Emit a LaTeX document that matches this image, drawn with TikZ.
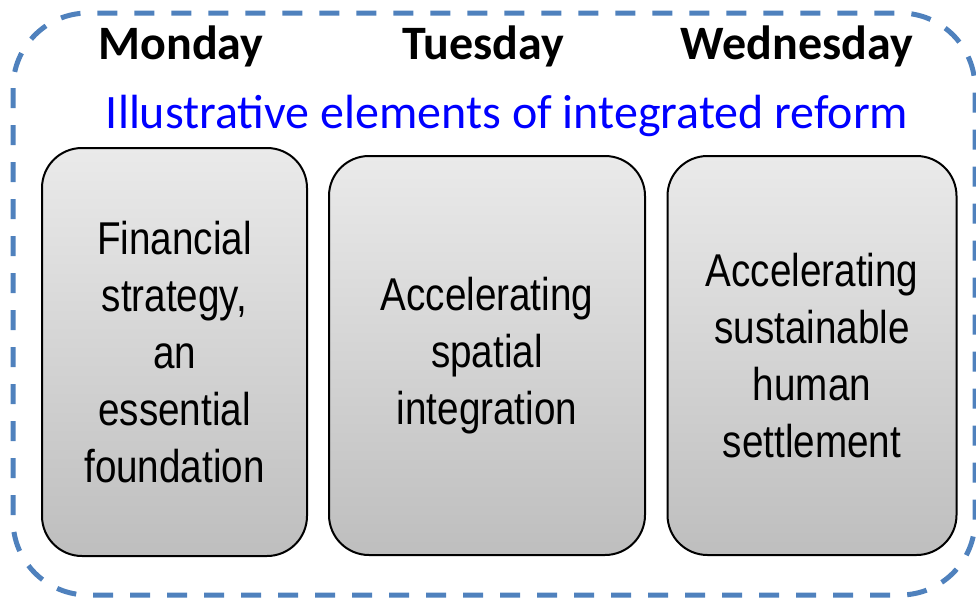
\documentclass[tikz,border=0pt]{standalone}
\usepackage{fontspec}
\setmainfont{Carlito}
\newfontfamily\narrowfont[FakeStretch=0.84]{Liberation Sans}
\usepackage{tikz}
\definecolor{frameblue}{RGB}{79,129,189}
\definecolor{boxtop}{RGB}{234,234,234}
\definecolor{boxbot}{RGB}{190,190,190}

\begin{document}
\begin{tikzpicture}[x=1pt, y=-1pt,
  daybox/.style={draw, line width=2pt, rounded corners=40pt, top color=boxtop, bottom color=boxbot,
    align=center, font=\narrowfont\fontsize{46}{57}\selectfont},
  dayname/.style={anchor=base, font=\bfseries\fontsize{48}{54}\selectfont}]
  \useasboundingbox (0,0) rectangle (976,597);
  \draw[frameblue, line width=5pt, dash pattern=on 20pt off 17pt, rounded corners=75pt]
    (13,13) rectangle (975,595);
  \node[dayname] (mon) at (181,59) {Monday};
  \node[dayname] (tue) at (483,59) {Tuesday};
  \node[dayname] (wed) at (797,59) {Wednesday};
  \node[anchor=base, text=blue, font=\fontsize{48}{54}\selectfont] (theme) at (507,128)
    {Illustrative elements of integrated reform};
  \node[daybox, minimum width=265pt, minimum height=408pt] (finance) at (174.5,352)
    {Financial\\strategy,\\an\\essential\\foundation};
  \node[daybox, minimum width=316pt, minimum height=399pt] (spatial) at (487,355.5)
    {\raisebox{-4pt}{Accelerating}\\\raisebox{-4pt}{spatial}\\\raisebox{-4pt}{integration}};
  \node[daybox, minimum width=289pt, minimum height=399pt] (settle) at (812,355.5)
    {Accelerating\\sustainable\\human\\settlement};
\end{tikzpicture}
\end{document}
